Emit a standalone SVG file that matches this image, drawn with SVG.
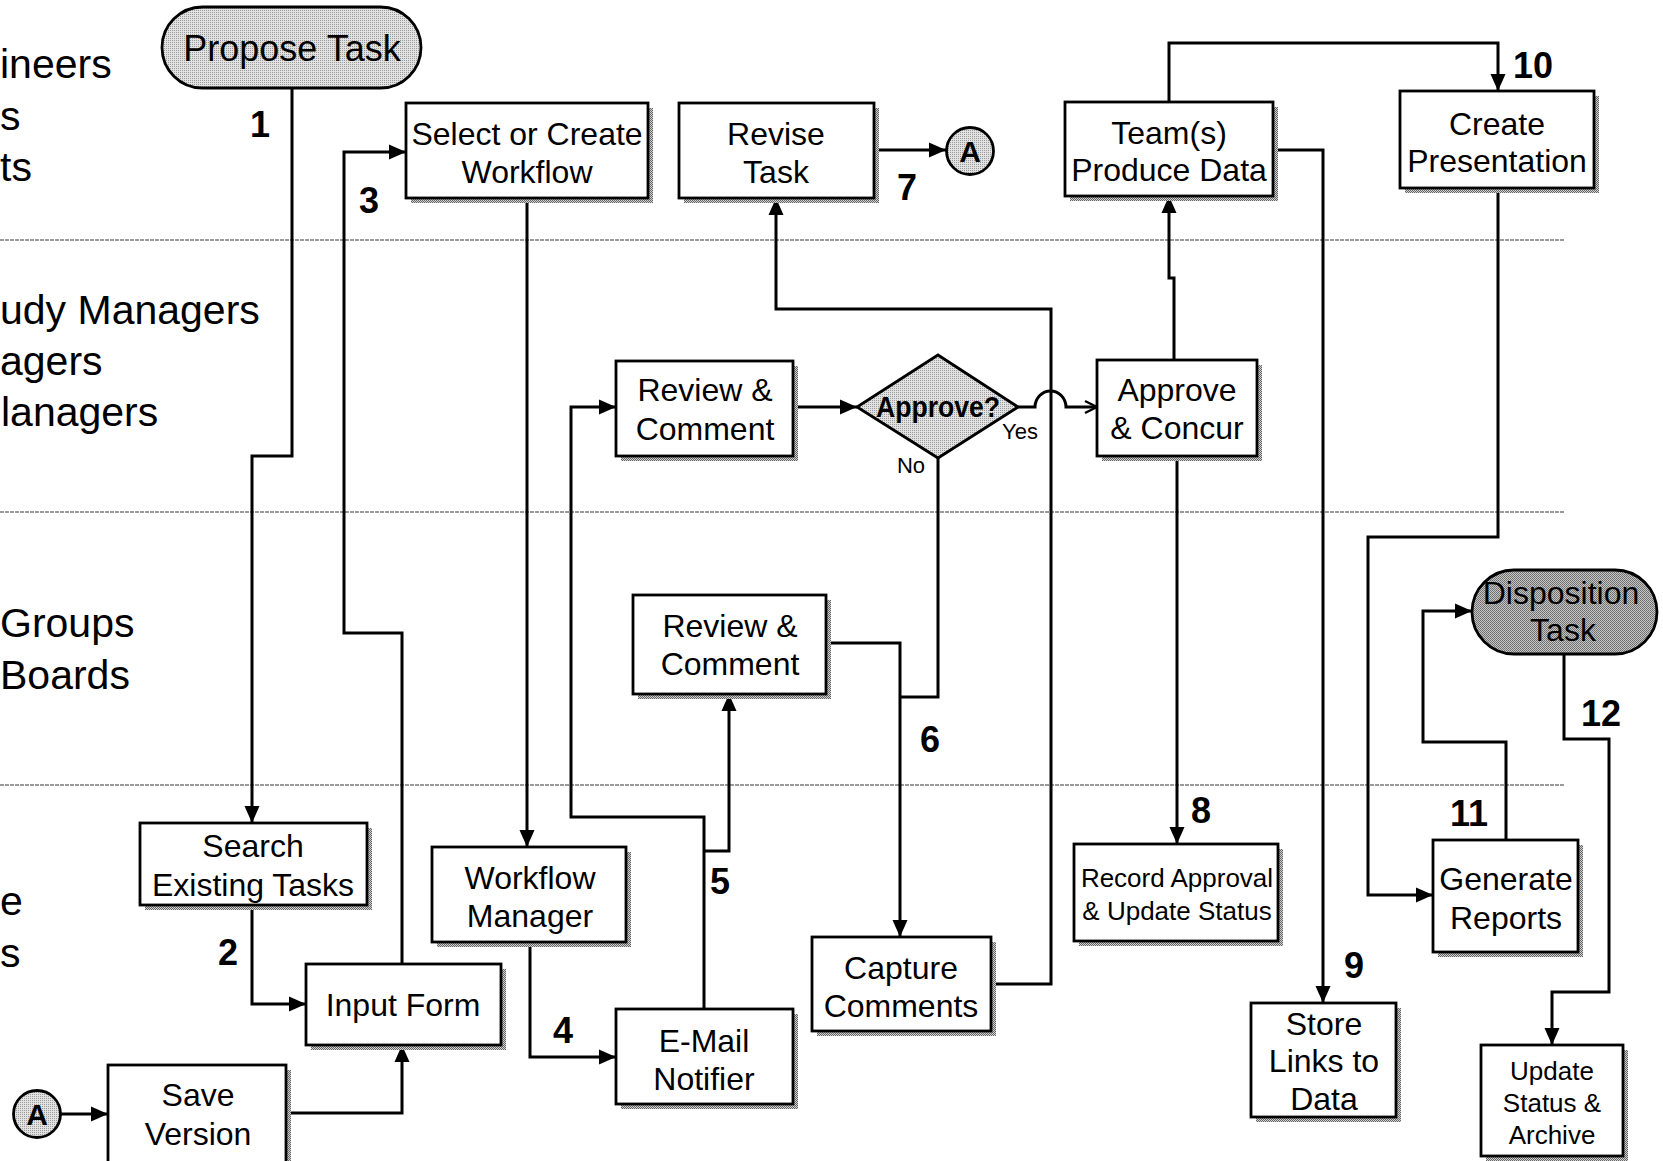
<svg xmlns="http://www.w3.org/2000/svg" width="1663" height="1161" viewBox="0 0 1663 1161">
<defs>
<pattern id="dith" width="2" height="2" patternUnits="userSpaceOnUse"><rect width="2" height="2" fill="#d0d0d0"/><rect width="1" height="1" fill="#666"/><rect x="1" y="1" width="1" height="1" fill="#666"/></pattern>
<pattern id="lite" width="2" height="2" patternUnits="userSpaceOnUse"><rect width="2" height="2" fill="#e2e2e2"/><rect width="1" height="1" fill="#9a9a9a"/></pattern>
<pattern id="dark" width="2" height="2" patternUnits="userSpaceOnUse"><rect width="2" height="2" fill="#c4c4c4"/><rect width="1" height="1" fill="#6e6e6e"/><rect x="1" y="1" width="1" height="1" fill="#7a7a7a"/></pattern>
<marker id="ah" markerUnits="userSpaceOnUse" markerWidth="18" markerHeight="16" refX="17" refY="8" orient="auto"><path d="M0,0.5 L17,8 L0,15.5 z" fill="#000"/></marker>
<marker id="ao" markerUnits="userSpaceOnUse" markerWidth="16" markerHeight="16" refX="14" refY="8" orient="auto"><path d="M2,2 L14,8 L2,14" fill="none" stroke="#000" stroke-width="2.4"/></marker>
</defs>
<style>
.box{fill:#fff;stroke:#000;stroke-width:2.8}
.sh{fill:url(#dith)}
.t{font-family:"Liberation Sans",Arial,sans-serif;font-size:32px;text-anchor:middle;fill:#000}
.ts{font-size:26px}
.num{font-family:"Liberation Sans",Arial,sans-serif;font-weight:bold;font-size:36px;text-anchor:middle;fill:#000}
.lane{font-family:"Liberation Sans",Arial,sans-serif;font-size:41px;fill:#000}
.c{fill:none;stroke:#000;stroke-width:3;marker-end:url(#ah)}
.cn{fill:none;stroke:#000;stroke-width:3}
.sep{stroke:#9a9a9a;stroke-width:2.2;stroke-dasharray:4 1}
</style>
<rect width="1663" height="1161" fill="#fff"/>
<g id="lanes">
<line class="sep" x1="0" y1="240" x2="1564" y2="240"/>
<line class="sep" x1="0" y1="512" x2="1564" y2="512"/>
<line class="sep" x1="0" y1="785" x2="1564" y2="785"/>
<text class="lane" x="0" y="78">ineers</text>
<text class="lane" x="0" y="130">s</text>
<text class="lane" x="0" y="181">ts</text>
<text class="lane" x="0" y="324">udy Managers</text>
<text class="lane" x="0" y="375">agers</text>
<text class="lane" x="1" y="426">lanagers</text>
<text class="lane" x="0" y="637">Groups</text>
<text class="lane" x="0" y="689">Boards</text>
<text class="lane" x="0" y="915">e</text>
<text class="lane" x="0" y="967">s</text>
</g>
<g id="connectors">
<polyline class="c" points="292,88 292,456 252,456 252,823"/>
<polyline class="c" points="252,905 252,1004 306,1004"/>
<polyline class="c" points="402,964 402,633 344,633 344,152 406,152"/>
<polyline class="c" points="286,1113 402,1113 402,1045"/>
<polyline class="c" points="60,1114 108,1114"/>
<polyline class="c" points="527,198 527,847"/>
<polyline class="c" points="530,942 530,1057 616,1057"/>
<polyline class="c" points="704,1009 704,817 571,817 571,407 616,407"/>
<polyline class="c" points="704,851 729,851 729,694"/>
<polyline class="c" points="793,407 857,407"/>
<path d="M1018,407 L1035,407 A15.5,16 0 0 1 1066,407 L1097,407" fill="none" stroke="#000" stroke-width="3" marker-end="url(#ao)"/>
<polyline class="c" points="826,643 900,643 900,937"/>
<polyline class="cn" points="938,458 938,697 900,697"/>
<polyline class="c" points="991,984 1051,984 1051,309 776,309 776,198"/>
<polyline class="c" points="874,150 946,150"/>
<polyline class="c" points="1174,360 1174,278 1169,278 1169,196"/>
<polyline class="c" points="1177,456 1177,844"/>
<polyline class="c" points="1273,150 1323,150 1323,1003"/>
<polyline class="c" points="1169,102 1169,43 1498,43 1498,91"/>
<polyline class="c" points="1498,188 1498,537 1368,537 1368,895 1433,895"/>
<polyline class="c" points="1506,840 1506,742 1423,742 1423,611 1472,611"/>
<polyline class="c" points="1564,654 1564,739 1609,739 1609,992 1552,992 1552,1045"/>
</g>
<g id="labels">
<text class="num" x="260" y="137">1</text>
<text class="num" x="228" y="965">2</text>
<text class="num" x="369" y="213">3</text>
<text class="num" x="563" y="1043">4</text>
<text class="num" x="720" y="894">5</text>
<text class="num" x="930" y="752">6</text>
<text class="num" x="907" y="200">7</text>
<text class="num" x="1201" y="823">8</text>
<text class="num" x="1354" y="978">9</text>
<text class="num" x="1533" y="78">10</text>
<text class="num" x="1469" y="826">11</text>
<text class="num" x="1601" y="726">12</text>
<text class="t" x="1020" y="439" style="font-size:22px">Yes</text>
<text class="t" x="911" y="473" style="font-size:22px">No</text>
</g>
<g id="propose-task">
<rect x="162" y="7" width="259" height="81" rx="40.5" fill="url(#lite)" stroke="#000" stroke-width="2.8"/>
<text class="t" x="292" y="61" style="font-size:36px">Propose Task</text>
</g>
<g id="select-workflow">
<rect class="sh" x="411" y="108" width="242" height="95"/>
<rect class="box" x="406" y="103" width="242" height="95"/>
<text class="t" x="527" y="145">Select or Create</text>
<text class="t" x="527" y="183">Workflow</text>
</g>
<g id="revise-task">
<rect class="sh" x="684" y="108" width="195" height="95"/>
<rect class="box" x="679" y="103" width="195" height="95"/>
<text class="t" x="776" y="145">Revise</text>
<text class="t" x="776" y="183">Task</text>
</g>
<g id="connector-a-top">
<circle cx="970" cy="151" r="23.5" fill="url(#lite)" stroke="#000" stroke-width="2.8"/>
<text class="t" x="970" y="162" style="font-size:30px;font-weight:bold">A</text>
</g>
<g id="teams-produce-data">
<rect class="sh" x="1070" y="107" width="208" height="94"/>
<rect class="box" x="1065" y="102" width="208" height="94"/>
<text class="t" x="1169" y="144">Team(s)</text>
<text class="t" x="1169" y="181">Produce Data</text>
</g>
<g id="create-presentation">
<rect class="sh" x="1405" y="96" width="194" height="97"/>
<rect class="box" x="1400" y="91" width="194" height="97"/>
<text class="t" x="1497" y="135">Create</text>
<text class="t" x="1497" y="172">Presentation</text>
</g>
<g id="review-comment-1">
<rect class="sh" x="621" y="366" width="177" height="95"/>
<rect class="box" x="616" y="361" width="177" height="95"/>
<text class="t" x="705" y="401">Review &amp;</text>
<text class="t" x="705" y="440">Comment</text>
</g>
<g id="approve-decision">
<polygon points="938,355 1018,407 938,458 857,407" fill="url(#lite)" stroke="#000" stroke-width="2.8"/>
<text class="t" x="938" y="417" style="font-size:30px;font-weight:bold" textLength="124" lengthAdjust="spacingAndGlyphs">Approve?</text>
</g>
<g id="approve-concur">
<rect class="sh" x="1102" y="365" width="160" height="96"/>
<rect class="box" x="1097" y="360" width="160" height="96"/>
<text class="t" x="1177" y="401">Approve</text>
<text class="t" x="1177" y="439">&amp; Concur</text>
</g>
<g id="review-comment-2">
<rect class="sh" x="638" y="600" width="193" height="99"/>
<rect class="box" x="633" y="595" width="193" height="99"/>
<text class="t" x="730" y="637">Review &amp;</text>
<text class="t" x="730" y="675">Comment</text>
</g>
<g id="disposition-task">
<rect x="1472" y="570" width="185" height="84" rx="42" fill="url(#dark)" stroke="#000" stroke-width="2.8"/>
<text class="t" x="1561" y="604">Disposition</text>
<text class="t" x="1563" y="641">Task</text>
</g>
<g id="search-tasks">
<rect class="sh" x="145" y="828" width="227" height="82"/>
<rect class="box" x="140" y="823" width="227" height="82"/>
<text class="t" x="253" y="857">Search</text>
<text class="t" x="253" y="896">Existing Tasks</text>
</g>
<g id="workflow-manager">
<rect class="sh" x="437" y="852" width="194" height="95"/>
<rect class="box" x="432" y="847" width="194" height="95"/>
<text class="t" x="530" y="889">Workflow</text>
<text class="t" x="530" y="927">Manager</text>
</g>
<g id="input-form">
<rect class="sh" x="311" y="969" width="195" height="81"/>
<rect class="box" x="306" y="964" width="195" height="81"/>
<text class="t" x="403" y="1016">Input Form</text>
</g>
<g id="save-version">
<rect class="sh" x="113" y="1070" width="178" height="100"/>
<rect class="box" x="108" y="1065" width="178" height="100"/>
<text class="t" x="198" y="1106">Save</text>
<text class="t" x="198" y="1145">Version</text>
</g>
<g id="connector-a-bottom">
<circle cx="37" cy="1114" r="23.5" fill="url(#lite)" stroke="#000" stroke-width="2.8"/>
<text class="t" x="37" y="1125" style="font-size:30px;font-weight:bold">A</text>
</g>
<g id="email-notifier">
<rect class="sh" x="621" y="1014" width="177" height="95"/>
<rect class="box" x="616" y="1009" width="177" height="95"/>
<text class="t" x="704" y="1052">E-Mail</text>
<text class="t" x="704" y="1090">Notifier</text>
</g>
<g id="capture-comments">
<rect class="sh" x="817" y="942" width="179" height="94"/>
<rect class="box" x="812" y="937" width="179" height="94"/>
<text class="t" x="901" y="979">Capture</text>
<text class="t" x="901" y="1017">Comments</text>
</g>
<g id="record-approval">
<rect class="sh" x="1079" y="849" width="204" height="97"/>
<rect class="box" x="1074" y="844" width="204" height="97"/>
<text class="t ts" x="1177" y="887">Record Approval</text>
<text class="t ts" x="1177" y="920">&amp; Update Status</text>
</g>
<g id="store-links">
<rect class="sh" x="1256" y="1008" width="145" height="114"/>
<rect class="box" x="1251" y="1003" width="145" height="114"/>
<text class="t" x="1324" y="1035">Store</text>
<text class="t" x="1324" y="1072">Links to</text>
<text class="t" x="1324" y="1110">Data</text>
</g>
<g id="generate-reports">
<rect class="sh" x="1438" y="845" width="145" height="112"/>
<rect class="box" x="1433" y="840" width="145" height="112"/>
<text class="t" x="1506" y="890">Generate</text>
<text class="t" x="1506" y="929">Reports</text>
</g>
<g id="update-archive">
<rect class="sh" x="1486" y="1050" width="142" height="111"/>
<rect class="box" x="1481" y="1045" width="142" height="111"/>
<text class="t ts" x="1552" y="1080">Update</text>
<text class="t ts" x="1552" y="1112">Status &amp;</text>
<text class="t ts" x="1552" y="1144">Archive</text>
</g>
</svg>
